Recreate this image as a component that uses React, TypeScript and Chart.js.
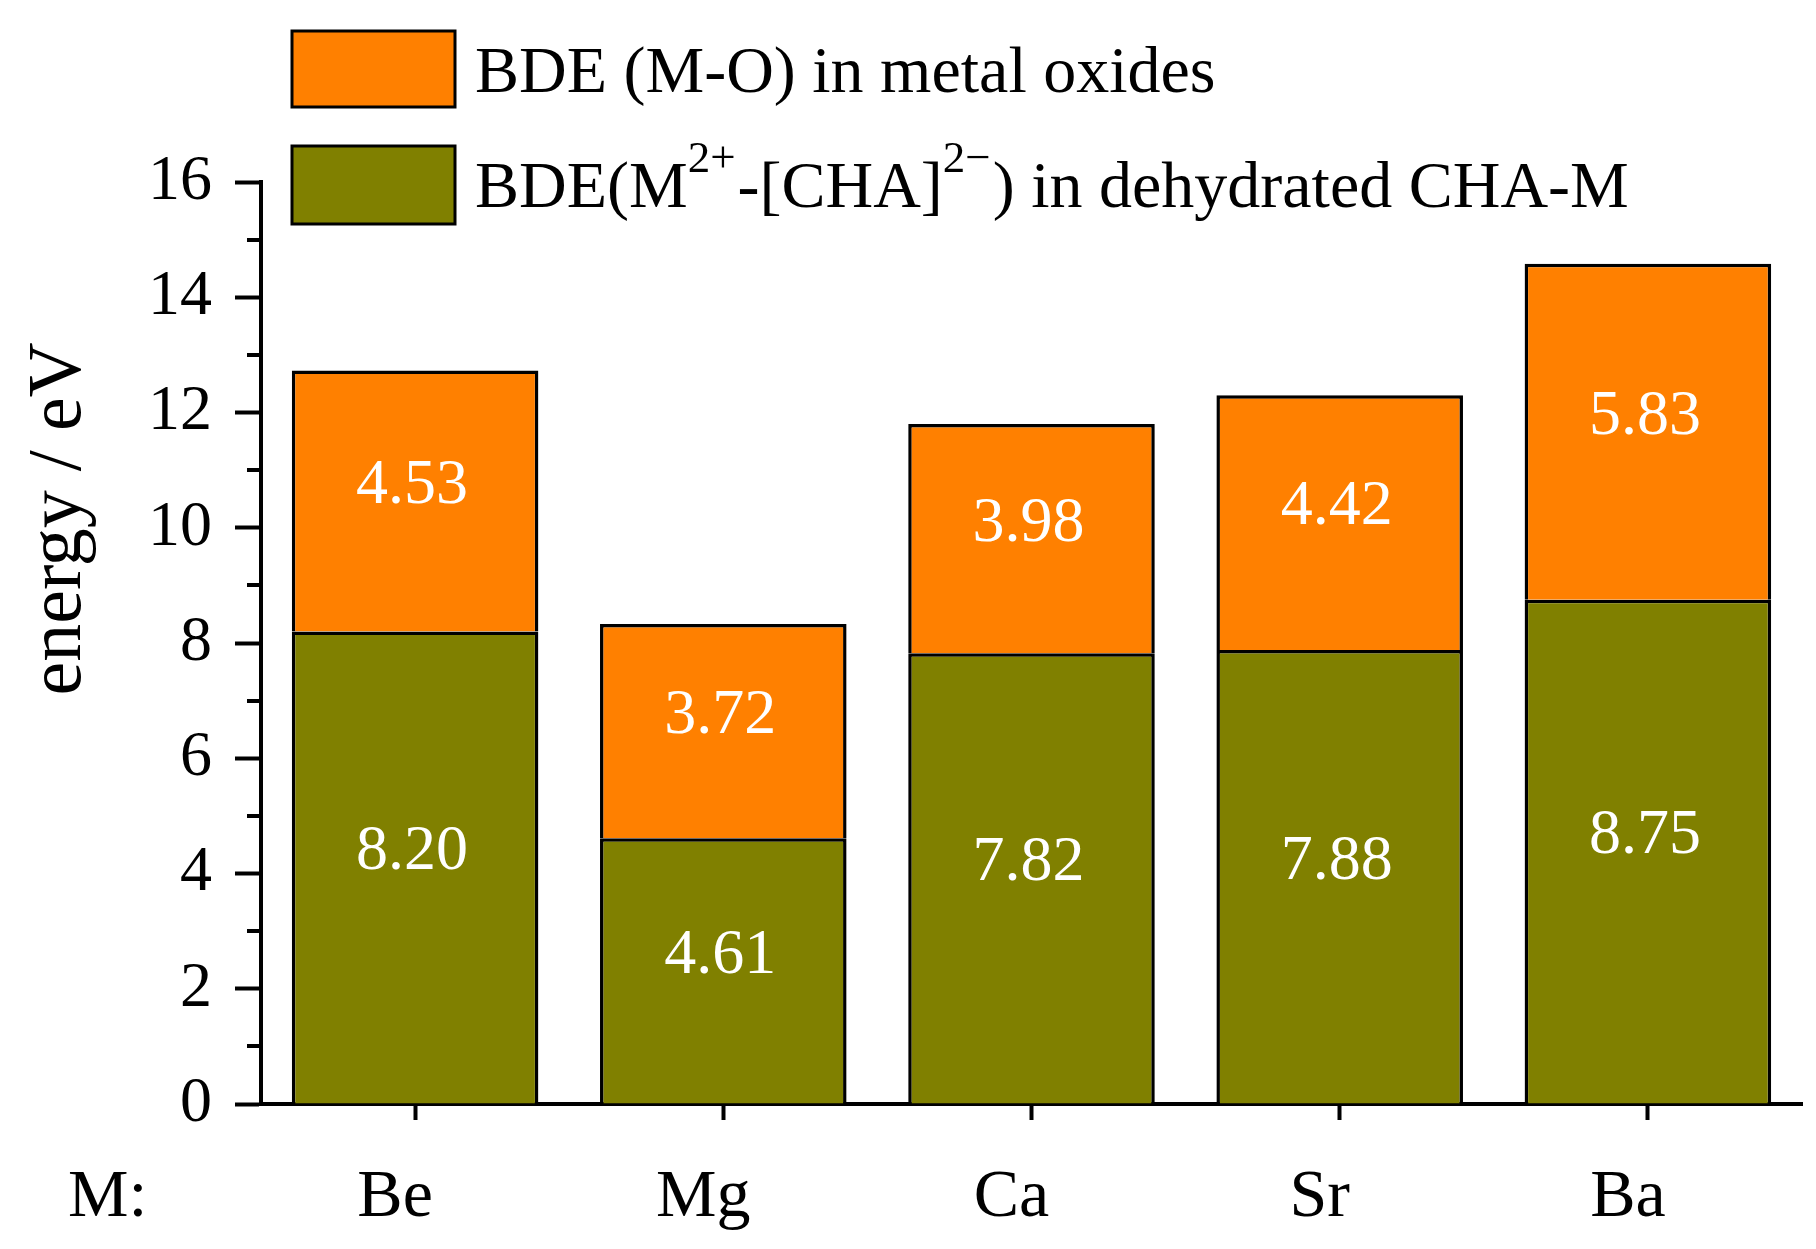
import React, { useEffect, useRef } from 'react';
import { Chart, registerables } from 'chart.js';

Chart.register(...registerables);

const categories = ['Be', 'Mg', 'Ca', 'Sr', 'Ba'];
const frameworkBDE = [8.2, 4.61, 7.82, 7.88, 8.75];
const oxideBDE = [4.53, 3.72, 3.98, 4.42, 5.83];
const yMin = 0;
const yMax = 16;
const yStep = 2;
const categoryPrefix = 'M:';
const yTitle = 'energy / eV';
const legendOxide = [{ t: 'BDE (M-O) in metal oxides' }];
const legendFramework = [
  { t: 'BDE(M' },
  { t: '2+', sup: true },
  { t: '-[CHA]' },
  { t: '2\u2212', sup: true },
  { t: ') in dehydrated CHA-M' },
];

const FONT = '"Liberation Serif", "Times New Roman", serif';
const ORANGE = '#FF8000';
const OLIVE = '#808000';

type Part = { t: string; sup?: boolean };

function drawRich(ctx: CanvasRenderingContext2D, parts: Part[], x: number, y: number) {
  let cx = x;
  for (const p of parts) {
    ctx.font = p.sup ? `45px ${FONT}` : `66px ${FONT}`;
    ctx.fillText(p.t, cx, p.sup ? y - 35 : y);
    cx += ctx.measureText(p.t).width + (p.sup ? 2 : 0);
  }
}

const decorPlugin = {
  id: 'decor',
  afterDatasetsDraw(chart: any) {
    const ctx: CanvasRenderingContext2D = chart.ctx;
    ctx.save();
    ctx.fillStyle = '#ffffff';
    ctx.font = `64px ${FONT}`;
    ctx.textAlign = 'center';
    ctx.textBaseline = 'middle';
    chart.data.datasets.forEach((ds: any, di: number) => {
      const meta = chart.getDatasetMeta(di);
      meta.data.forEach((el: any, i: number) => {
        const { x, y, base } = el.getProps(['x', 'y', 'base'], true);
        ctx.fillText(Number(ds.data[i]).toFixed(2), x - 3, (y + base) / 2 - 15);
      });
    });
    ctx.restore();
  },
  afterDraw(chart: any) {
    const ctx: CanvasRenderingContext2D = chart.ctx;
    const area = chart.chartArea;
    const ys = chart.scales.y;
    const xs = chart.scales.x;
    ctx.save();
    // minor ticks
    ctx.strokeStyle = '#000';
    ctx.lineWidth = 4;
    for (let v = yMin + yStep / 2; v < yMax; v += yStep) {
      const py = Math.round(ys.getPixelForValue(v));
      ctx.beginPath();
      ctx.moveTo(area.left - 14, py);
      ctx.lineTo(area.left, py);
      ctx.stroke();
    }
    // x labels
    ctx.fillStyle = '#000';
    ctx.font = `68px ${FONT}`;
    ctx.textAlign = 'center';
    ctx.textBaseline = 'alphabetic';
    const labelY = area.bottom + 112;
    categories.forEach((c, i) => {
      ctx.fillText(c, xs.getPixelForValue(i) - 20, labelY);
    });
    ctx.textAlign = 'left';
    ctx.fillText(categoryPrefix, 68, labelY);
    // y title
    ctx.save();
    ctx.translate(80, 519);
    ctx.rotate(-Math.PI / 2);
    ctx.font = `76px ${FONT}`;
    ctx.textAlign = 'center';
    ctx.textBaseline = 'alphabetic';
    ctx.fillText(yTitle, 0, 0);
    ctx.restore();
    // legend
    const boxes = [
      { color: ORANGE, y: 31, h: 76, parts: legendOxide, base: 92 },
      { color: OLIVE, y: 146, h: 78, parts: legendFramework, base: 207 },
    ];
    for (const b of boxes) {
      ctx.fillStyle = b.color;
      ctx.fillRect(292, b.y, 163, b.h);
      ctx.strokeStyle = '#000';
      ctx.lineWidth = 3;
      ctx.strokeRect(292, b.y, 163, b.h);
      ctx.fillStyle = '#000';
      ctx.textAlign = 'left';
      ctx.textBaseline = 'alphabetic';
      drawRich(ctx, b.parts, 475, b.base);
    }
    ctx.restore();
  },
};

export default function App() {
  const ref = useRef<HTMLCanvasElement>(null);
  useEffect(() => {
    if (!ref.current) return;
    const chart = new Chart(ref.current, {
      type: 'bar',
      data: {
        labels: categories,
        datasets: [
          {
            label: 'BDE(M2+-[CHA]2-) in dehydrated CHA-M',
            data: frameworkBDE,
            backgroundColor: OLIVE,
            borderColor: '#000',
            borderWidth: 3.5,
            borderSkipped: 'start',
            barPercentage: 0.8,
            categoryPercentage: 1.0,
          },
          {
            label: 'BDE (M-O) in metal oxides',
            data: oxideBDE,
            backgroundColor: ORANGE,
            borderColor: '#000',
            borderWidth: 3.5,
            borderSkipped: 'start',
            barPercentage: 0.8,
            categoryPercentage: 1.0,
          },
        ],
      },
      options: {
        responsive: false,
        animation: false,
        devicePixelRatio: 1,
        layout: { padding: { top: 182, right: 14, bottom: 0, left: 0 } },
        plugins: {
          legend: { display: false },
          tooltip: { enabled: false },
          title: { display: false },
        },
        scales: {
          x: {
            stacked: true,
            offset: true,
            grid: {
              display: true,
              drawOnChartArea: false,
              drawTicks: true,
              offset: false,
              tickLength: 16,
              tickWidth: 4,
              tickColor: '#000',
            },
            border: { display: true, color: '#000', width: 4 },
            ticks: { display: false },
            afterFit: (s: any) => {
              s.height = 145;
            },
          },
          y: {
            stacked: true,
            min: yMin,
            max: yMax,
            grid: {
              display: true,
              drawOnChartArea: false,
              drawTicks: true,
              tickLength: 26,
              tickWidth: 4,
              tickColor: '#000',
            },
            border: { display: true, color: '#000', width: 4 },
            ticks: {
              stepSize: yStep,
              color: '#000',
              padding: 23,
              font: { family: FONT, size: 64 },
            },
            afterFit: (s: any) => {
              s.width = 261;
            },
          },
        },
      },
      plugins: [decorPlugin],
    } as any);
    return () => chart.destroy();
  }, []);
  return (
    <div style={{ position: 'fixed', left: 0, top: 0, width: 1816, height: 1249, background: '#fff' }}>
      <canvas ref={ref} width={1816} height={1249} style={{ width: 1816, height: 1249, display: 'block' }} />
    </div>
  );
}
